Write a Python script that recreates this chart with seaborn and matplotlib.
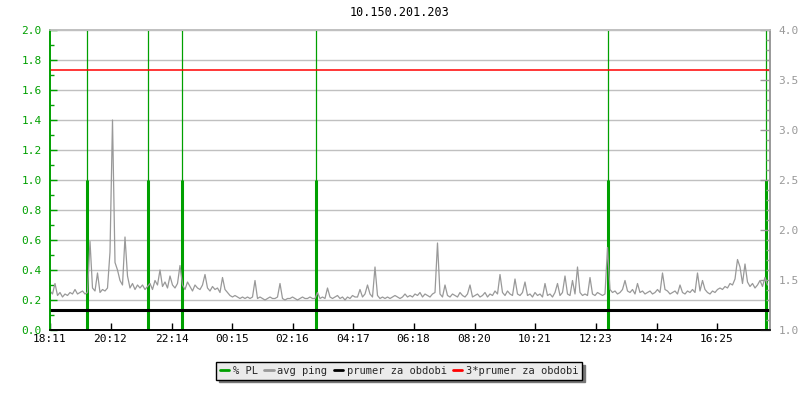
import matplotlib
matplotlib.use('Agg')
import matplotlib.pyplot as plt
import pandas as pd
import seaborn as sns
from matplotlib.lines import Line2D
from matplotlib.ticker import MultipleLocator, FormatStrFormatter

sns.set_theme(style='white')
plt.rcParams['font.family'] = ['DejaVu Sans Mono', 'DejaVu Sans']

# avg ping in ms, one sample every 5 min starting at 18:11 (one row per hour)
ping = [
    1.39, 1.36, 1.465, 1.345, 1.375, 1.33, 1.36, 1.345, 1.375, 1.36, 1.405, 1.36,
    1.375, 1.39, 1.36, 1.375, 1.885, 1.42, 1.39, 1.57, 1.375, 1.405, 1.39, 1.42,
    1.78, 3.10, 1.675, 1.60, 1.495, 1.45, 1.93, 1.54, 1.42, 1.465, 1.405, 1.45,
    1.42, 1.45, 1.405, 1.435, 1.465, 1.405, 1.495, 1.45, 1.60, 1.435, 1.48, 1.42,
    1.54, 1.45, 1.42, 1.465, 1.645, 1.45, 1.405, 1.48, 1.435, 1.39, 1.45, 1.42,
    1.405, 1.45, 1.555, 1.42, 1.39, 1.435, 1.405, 1.42, 1.375, 1.525, 1.405, 1.375,
    1.345, 1.33, 1.345, 1.33, 1.315, 1.33, 1.315, 1.33, 1.315, 1.33, 1.495, 1.315,
    1.33, 1.315, 1.30, 1.315, 1.33, 1.315, 1.315, 1.33, 1.465, 1.315, 1.30, 1.315,
    1.315, 1.33, 1.315, 1.30, 1.315, 1.33, 1.315, 1.315, 1.33, 1.315, 1.315, 1.375,
    1.315, 1.33, 1.315, 1.42, 1.33, 1.315, 1.33, 1.345, 1.315, 1.33, 1.30, 1.33,
    1.315, 1.345, 1.33, 1.33, 1.405, 1.33, 1.36, 1.45, 1.36, 1.33, 1.63, 1.345,
    1.315, 1.33, 1.315, 1.33, 1.315, 1.33, 1.345, 1.33, 1.315, 1.33, 1.36, 1.33,
    1.345, 1.33, 1.36, 1.345, 1.375, 1.33, 1.36, 1.345, 1.33, 1.36, 1.375, 1.87,
    1.36, 1.33, 1.45, 1.345, 1.33, 1.36, 1.345, 1.33, 1.375, 1.345, 1.33, 1.36,
    1.45, 1.33, 1.345, 1.36, 1.33, 1.345, 1.375, 1.33, 1.36, 1.345, 1.39, 1.36,
    1.555, 1.375, 1.345, 1.39, 1.36, 1.345, 1.51, 1.36, 1.345, 1.375, 1.48, 1.345,
    1.36, 1.33, 1.375, 1.345, 1.36, 1.33, 1.465, 1.345, 1.36, 1.33, 1.375, 1.465,
    1.345, 1.375, 1.54, 1.36, 1.345, 1.495, 1.36, 1.63, 1.375, 1.345, 1.36, 1.345,
    1.525, 1.36, 1.345, 1.375, 1.36, 1.345, 1.36, 1.825, 1.405, 1.375, 1.39, 1.36,
    1.375, 1.405, 1.495, 1.39, 1.375, 1.405, 1.36, 1.465, 1.375, 1.39, 1.36, 1.375,
    1.39, 1.36, 1.375, 1.405, 1.375, 1.57, 1.405, 1.39, 1.36, 1.375, 1.39, 1.36,
    1.45, 1.375, 1.36, 1.39, 1.375, 1.405, 1.375, 1.57, 1.39, 1.495, 1.405, 1.375,
    1.36, 1.39, 1.375, 1.405, 1.42, 1.405, 1.435, 1.42, 1.465, 1.45, 1.51, 1.705,
    1.63, 1.465, 1.66, 1.48, 1.435, 1.465, 1.42, 1.45, 1.495, 1.435, 1.525, 1.45,
]
sample_step = 5  # minutes
ping_mean = 1.2
ping_mean3 = 3.6

# packet loss events (minutes after 18:11, % PL)
pl_minutes = [73, 196, 264, 532, 1116, 1432]
pl_values = [1.0, 1.0, 1.0, 1.0, 1.0, 1.0]

tick_labels = ['18:11', '20:12', '22:14', '00:15', '02:16', '04:17',
               '06:18', '08:20', '10:21', '12:23', '14:24', '16:25']
span_minutes = 1440
title = '10.150.201.203'

GREEN = '#00a000'
GRAY = '#999999'
GRID = '#c0c0c0'

df = pd.DataFrame({'minute': [i * sample_step for i in range(len(ping))],
                   'ping': ping})


def label_to_minute(lbl):
    h, m = map(int, lbl.split(':'))
    h0, m0 = map(int, tick_labels[0].split(':'))
    return ((h * 60 + m) - (h0 * 60 + m0)) % 1440


fig = plt.figure(figsize=(8, 4), dpi=100)
ax = fig.add_axes([0.0625, 0.175, 0.9, 0.75])
ax2 = ax.twinx()

# left axis: packet loss
ax.set_xlim(0, span_minutes)
ax.set_ylim(0, 2)
ax.yaxis.set_major_locator(MultipleLocator(0.2))
ax.yaxis.set_minor_locator(MultipleLocator(0.1))
ax.yaxis.grid(True, which='major', color=GRID, lw=1)
ax.set_axisbelow(True)
ax.vlines(pl_minutes, 0, 2, color=GREEN, lw=0.9)
ax.vlines(pl_minutes, 0, pl_values, color=GREEN, lw=2.2)

# right axis: ping
sns.lineplot(data=df, x='minute', y='ping', ax=ax2, color=GRAY, lw=0.9)
ax2.axhline(ping_mean, color='black', lw=2.2)
ax2.axhline(ping_mean3, color='red', lw=1.1)
ax2.set_ylim(1, 4)
ax2.set_xlim(0, span_minutes)
ax2.yaxis.set_major_locator(MultipleLocator(0.5))
ax2.yaxis.set_minor_locator(MultipleLocator(0.1))
ax2.set_xlabel('')
ax2.set_ylabel('')
ax.set_xlabel('')

ax.set_xticks([label_to_minute(t) for t in tick_labels])
ax.set_xticklabels(tick_labels)

ax.tick_params(axis='y', which='both', direction='in', colors=GREEN,
               labelsize=8, left=True, right=False, pad=6)
ax.tick_params(axis='y', which='major', length=5, width=1)
ax.tick_params(axis='y', which='minor', length=3, width=1)
ax.tick_params(axis='x', direction='in', length=5, width=1, colors='black',
               labelsize=8, bottom=True, pad=3)
ax2.tick_params(axis='y', which='both', direction='in', colors=GRAY,
                labelsize=8, right=True, left=False, pad=6)
ax2.tick_params(axis='y', which='major', length=7, width=1)
ax2.tick_params(axis='y', which='minor', length=3, width=1)
ax2.yaxis.set_major_formatter(FormatStrFormatter('%.1f'))
ax.yaxis.set_major_formatter(FormatStrFormatter('%.1f'))

for a in (ax, ax2):
    a.spines['left'].set_color(GREEN)
    a.spines['right'].set_color(GRAY)
    a.spines['top'].set_color(GRID)
    a.spines['bottom'].set_color('black')
    for s in a.spines.values():
        s.set_linewidth(1.2)

fig.text(0.5, 0.97, title, ha='center', va='center', fontsize=8.5,
         color='black')

handles = [Line2D([], [], color=GREEN, lw=2),
           Line2D([], [], color=GRAY, lw=2),
           Line2D([], [], color='black', lw=2),
           Line2D([], [], color='red', lw=2)]
labels = ['% PL', 'avg ping', 'prumer za obdobi', '3*prumer za obdobi']
leg = fig.legend(handles, labels, loc='center', bbox_to_anchor=(0.499, 0.0725),
                 ncol=4, fontsize=7.5, handlelength=0.9, handletextpad=0.35,
                 columnspacing=0.6, borderpad=0.35, fancybox=False,
                 shadow={'color': '#777777', 'alpha': 1.0}, framealpha=1)
leg.get_frame().set_facecolor('#ebebeb')
leg.get_frame().set_edgecolor('black')
leg.get_frame().set_linewidth(1)

fig.savefig('out.png', dpi=100)
